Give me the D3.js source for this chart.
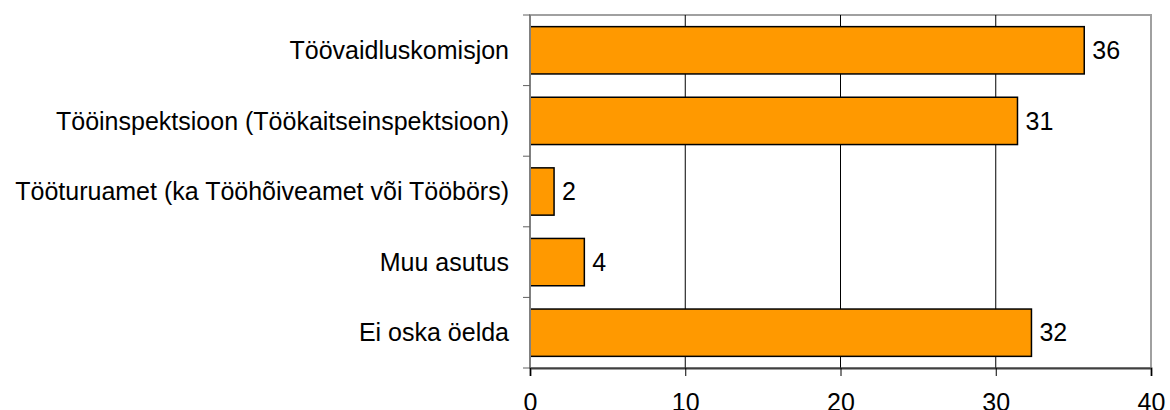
<!DOCTYPE html>
<html>
<head>
<meta charset="utf-8">
<script src="https://cdn.jsdelivr.net/npm/d3@7"></script>
<style>
  body { margin: 0; background: #fff; }
  text { font-family: "Liberation Sans", Arial, sans-serif; }
</style>
</head>
<body>
<div id="chart"></div>
<script>
var categories = ["Töövaidluskomisjon", "Tööinspektsioon (Töökaitseinspektsioon)",
    "Tööturuamet (ka Tööhõiveamet või Tööbörs)", "Muu asutus", "Ei oska öelda"];
var values = [35.7, 31.4, 1.55, 3.5, 32.3];
var valueLabels = ["36", "31", "2", "4", "32"];
var xTicks = [0, 10, 20, 30, 40];

var margin = { top: 15, right: 19, bottom: 42, left: 530 },
    width = 1170 - margin.left - margin.right,
    height = 410 - margin.top - margin.bottom;

var svg = d3.select("#chart")
    .append("svg")
    .attr("width", 1170)
    .attr("height", 410)
    .append("g")
    .attr("transform", "translate(" + margin.left + "," + margin.top + ")");

var x = d3.scaleLinear().domain([0, 40]).range([0, width]);
var y = d3.scaleBand().domain(categories).range([0, height]).paddingInner(0.33).paddingOuter(0.165);

// plot frame
svg.append("rect")
    .attr("x", 0).attr("y", 0)
    .attr("width", width).attr("height", height)
    .attr("fill", "none")
    .attr("stroke", "#a0a0a0")
    .attr("stroke-width", 2);

// gridlines
svg.selectAll(".grid")
    .data(xTicks.slice(1, -1))
    .enter().append("line")
    .attr("x1", function (d) { return x(d); })
    .attr("x2", function (d) { return x(d); })
    .attr("y1", 0).attr("y2", height)
    .attr("stroke", "#000")
    .attr("stroke-width", 1);

// bars
svg.selectAll(".bar")
    .data(values)
    .enter().append("rect")
    .attr("x", x(0))
    .attr("y", function (d, i) { return y(categories[i]); })
    .attr("width", function (d) { return x(d) - x(0); })
    .attr("height", y.bandwidth())
    .attr("fill", "#ff9900")
    .attr("stroke", "#000")
    .attr("stroke-width", 1.5);

// value labels
svg.selectAll(".vlabel")
    .data(values)
    .enter().append("text")
    .attr("x", function (d) { return x(d) + 8; })
    .attr("y", function (d, i) { return y(categories[i]) + y.bandwidth() / 2; })
    .attr("dy", "0.35em")
    .style("font-size", "25px")
    .text(function (d, i) { return valueLabels[i]; });

// left axis
var yAxis = svg.append("g");
yAxis.append("line")
    .attr("x1", 0).attr("x2", 0).attr("y1", 0).attr("y2", height)
    .attr("stroke", "#808080").attr("stroke-width", 2);
var bounds = d3.range(categories.length + 1).map(function (i) { return i * height / categories.length; });
yAxis.selectAll(".ytick")
    .data(bounds)
    .enter().append("line")
    .attr("x1", -7).attr("x2", 0)
    .attr("y1", function (d) { return d; })
    .attr("y2", function (d) { return d; })
    .attr("stroke", "#606060").attr("stroke-width", 1);
yAxis.selectAll(".ylabel")
    .data(categories)
    .enter().append("text")
    .attr("x", -21)
    .attr("y", function (d) { return y(d) + y.bandwidth() / 2; })
    .attr("dy", "0.35em")
    .attr("text-anchor", "end")
    .style("font-size", "25px")
    .text(function (d) { return d; });

// bottom axis
var xAxis = svg.append("g")
    .attr("transform", "translate(0," + height + ")")
    .call(d3.axisBottom(x).tickValues(xTicks).tickSize(8).tickPadding(17));
xAxis.select(".domain").attr("stroke", "#404040").attr("stroke-width", 2);
xAxis.selectAll(".tick line").attr("stroke", "#000");
xAxis.selectAll(".tick text")
    .style("font-family", "Liberation Sans, Arial, sans-serif")
    .style("font-size", "25px")
    .attr("fill", "#000");
</script>
</body>
</html>
